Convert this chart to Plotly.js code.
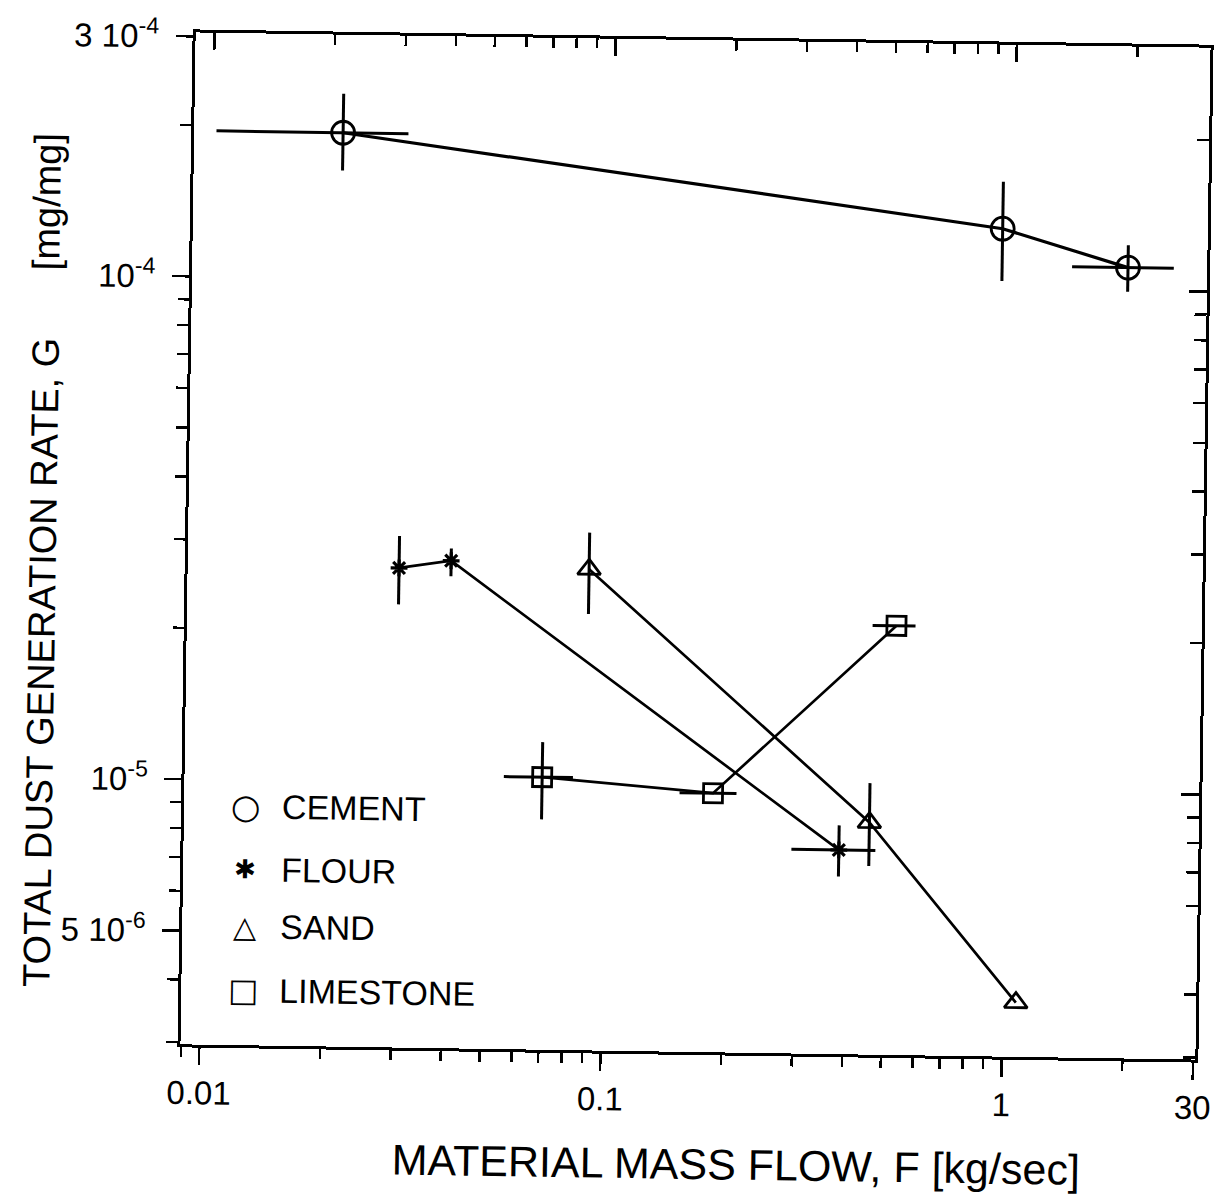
<!DOCTYPE html>
<html>
<head>
<meta charset="utf-8">
<script src="https://cdn.plot.ly/plotly-3.0.1.min.js"></script>
<style>
  html, body { margin: 0; padding: 0; background: #ffffff; overflow: hidden; }
  #chart { width: 1221px; height: 1202px; transform: rotate(0.86deg); transform-origin: 695px 546px; }
</style>
</head>
<body>
<div id="chart"></div>
<script>
// ---------------- data ----------------
const seriesNames = ["CEMENT", "FLOUR", "SAND", "LIMESTONE"];

const cementX = [0.0211, 0.937, 1.93];
const cementY = [1.95e-4, 1.315e-4, 1.11e-4];
const cementYLow = [1.64e-4, 1.035e-4, 0.994e-4];
const cementYHigh = [2.33e-4, 1.63e-4, 1.23e-4];
const cementXLow = [0.0102, 0.937, 1.40];
const cementXHigh = [0.0307, 0.937, 2.51];

const flourX = [0.0302, 0.0407, 0.386];
const flourY = [2.67e-5, 2.77e-5, 7.57e-6];
const flourYLow = [2.26e-5, 2.58e-5, 6.70e-6];
const flourYHigh = [3.09e-5, 2.93e-5, 8.47e-6];
const flourXLow = [0.0302, 0.0407, 0.294];
const flourXHigh = [0.0302, 0.0407, 0.476];

const sandX = [0.0899, 0.459, 1.08];
const sandY = [2.69e-5, 8.6e-6, 3.81e-6];
const sandYLow = [2.19e-5, 7.05e-6, 3.81e-6];
const sandYHigh = [3.18e-5, 1.03e-5, 3.81e-6];

const limeX = [0.0699, 0.1866, 0.527];
const limeY = [1.035e-5, 9.73e-6, 2.12e-5];
const limeYLow = [8.53e-6, 9.73e-6, 2.12e-5];
const limeYHigh = [1.215e-5, 9.73e-6, 2.12e-5];
const limeXLow = [0.0561, 0.154, 0.4596];
const limeXHigh = [0.0834, 0.2135, 0.588];

const xTickVals = [0.01, 0.1, 1, 3];
const xTickText = ["0.01", "0.1", "1", "30"];
const xMinorVals = [0.009, 0.02, 0.03, 0.04, 0.05, 0.06, 0.07, 0.08, 0.09,
                    0.2, 0.3, 0.4, 0.5, 0.6, 0.7, 0.8, 0.9, 2];
const yTickVals = [3e-4, 1e-4, 1e-5, 5e-6];
const yTickText = ["3 10<sup>-4</sup>", "10<sup>-4</sup>", "10<sup>-5</sup>", "5 10<sup>-6</sup>"];
const yMinorVals = [2e-4, 9e-5, 8e-5, 7e-5, 6e-5, 5e-5, 4e-5, 3e-5, 2e-5,
                    9e-6, 8e-6, 7e-6, 6e-6, 4e-6, 3e-6];

const xTitle = "MATERIAL MASS FLOW, F [kg/sec]";
const yTitleMain = "TOTAL DUST GENERATION RATE, G";
const yTitleUnit = "[mg/mg]";
const legendSymbols = ["○", "✱", "△", "□"];

// ---------------- helpers ----------------
const up = (hi, v) => hi.map((h, i) => h - v[i]);
const dn = (lo, v) => lo.map((l, i) => v[i] - l);

const FONT = "Liberation Sans, Arial, Helvetica, sans-serif";
const ML = 188, MT = 40, W = 1015, H = 1012;
const MR = 1221 - ML - W, MB = 1202 - MT - H;
const px = x => (x - ML) / W;
const py = y => 1 - (y - MT) / H;

function errBar(v, lo, hi) {
  return {type: "data", symmetric: false, array: up(hi, v), arrayminus: dn(lo, v),
          color: "#000", thickness: 3, width: 0};
}

const traces = [
  {x: cementX, y: cementY, name: seriesNames[0], mode: "lines+markers",
   line: {color: "#000", width: 3.2},
   marker: {symbol: "circle-open", size: 23, color: "#000", line: {width: 2.8, color: "#000"}},
   error_y: errBar(cementY, cementYLow, cementYHigh),
   error_x: errBar(cementX, cementXLow, cementXHigh)},
  {x: flourX, y: flourY, name: seriesNames[1], mode: "lines+markers",
   line: {color: "#000", width: 2.7},
   marker: {symbol: "asterisk-open", size: 14, color: "#000", line: {width: 3.2, color: "#000"}},
   error_y: errBar(flourY, flourYLow, flourYHigh),
   error_x: errBar(flourX, flourXLow, flourXHigh)},
  {x: sandX, y: sandY, name: seriesNames[2], mode: "lines+markers",
   line: {color: "#000", width: 2.7},
   marker: {symbol: "triangle-up-open", size: 20, color: "#000", line: {width: 2.8, color: "#000"}},
   error_y: errBar(sandY, sandYLow, sandYHigh)},
  {x: limeX, y: limeY, name: seriesNames[3], mode: "lines+markers",
   line: {color: "#000", width: 2.7},
   marker: {symbol: "square-open", size: 19, color: "#000", line: {width: 2.8, color: "#000"}},
   error_y: errBar(limeY, limeYLow, limeYHigh),
   error_x: errBar(limeX, limeXLow, limeXHigh)},
  {x: [], y: [], xaxis: "x2", yaxis: "y2", showlegend: false, hoverinfo: "skip"}
];

const xRange = [-2.047, 0.483];
const yRange = [-5.527, -3.515];

const tickFont = {family: FONT, size: 33, color: "#000"};

// legend rows (pixel layout positions)
const legendRowsY = [813, 876, 933, 997];
const legendSymbolSize = [34, 26, 30, 32];

const annotations = [
  {text: xTitle, xref: "paper", yref: "paper", x: px(745), y: py(1164),
   xanchor: "center", yanchor: "middle", showarrow: false,
   font: {family: FONT, size: 43, color: "#000"}},
  {text: yTitleMain, xref: "paper", yref: "paper", x: px(43), y: py(672),
   xanchor: "center", yanchor: "middle", showarrow: false, textangle: -90,
   font: {family: FONT, size: 38, color: "#000"}},
  {text: yTitleUnit, xref: "paper", yref: "paper", x: px(42), y: py(212),
   xanchor: "center", yanchor: "middle", showarrow: false, textangle: -90,
   font: {family: FONT, size: 38, color: "#000"}}
];
seriesNames.forEach((n, i) => {
  annotations.push({text: legendSymbols[i], xref: "paper", yref: "paper",
    x: px(250), y: py(legendRowsY[i]), xanchor: "center", yanchor: "middle", showarrow: false,
    font: {family: "DejaVu Sans, sans-serif", size: legendSymbolSize[i], color: "#000"}});
  annotations.push({text: n, xref: "paper", yref: "paper",
    x: px(284), y: py(legendRowsY[i]), xanchor: "left", yanchor: "middle", showarrow: false,
    font: {family: FONT, size: 34, color: "#000"}});
});

const layout = {
  width: 1221, height: 1202,
  margin: {l: ML, r: MR, t: MT, b: MB, pad: 0},
  paper_bgcolor: "#fff", plot_bgcolor: "#fff",
  showlegend: false,
  font: {family: FONT, color: "#000"},
  xaxis: {type: "log", range: xRange, showgrid: false, zeroline: false,
          showline: true, mirror: true, linecolor: "#000", linewidth: 3,
          ticks: "outside", ticklen: 17, tickwidth: 2.5, tickcolor: "#000",
          tickmode: "array", tickvals: xTickVals, ticktext: xTickText,
          ticklabelstandoff: 0, tickfont: tickFont,
          minor: {ticks: "outside", ticklen: 10, tickwidth: 2.5, tickcolor: "#000",
                  tickmode: "array", tickvals: xMinorVals, showgrid: false}},
  yaxis: {type: "log", range: yRange, showgrid: false, zeroline: false,
          showline: true, mirror: true, linecolor: "#000", linewidth: 3,
          ticks: "outside", ticklen: 17, tickwidth: 2.5, tickcolor: "#000",
          tickmode: "array", tickvals: yTickVals, ticktext: yTickText,
          ticklabelstandoff: 10, tickfont: tickFont,
          minor: {ticks: "outside", ticklen: 11, tickwidth: 2.5, tickcolor: "#000",
                  tickmode: "array", tickvals: yMinorVals, showgrid: false}},
  xaxis2: {type: "log", range: xRange, overlaying: "x", side: "top", anchor: "y2",
           showgrid: false, zeroline: false, showline: false, showticklabels: false,
           ticks: "inside", ticklen: 17, tickwidth: 2.5, tickcolor: "#000",
           tickmode: "array", tickvals: [0.01, 0.1, 1],
           minor: {ticks: "inside", ticklen: 10, tickwidth: 2.5, tickcolor: "#000",
                   tickmode: "array", tickvals: xMinorVals, showgrid: false}},
  yaxis2: {type: "log", range: yRange, overlaying: "y", side: "right", anchor: "x2",
           showgrid: false, zeroline: false, showline: false, showticklabels: false,
           ticks: "inside", ticklen: 18, tickwidth: 2.5, tickcolor: "#000",
           tickmode: "array", tickvals: [1e-4, 1e-5],
           minor: {ticks: "inside", ticklen: 12, tickwidth: 2.5, tickcolor: "#000",
                   tickmode: "array", tickvals: yMinorVals, showgrid: false}},
  annotations: annotations
};

Plotly.newPlot("chart", traces, layout, {staticPlot: true, displayModeBar: false});
</script>
</body>
</html>
